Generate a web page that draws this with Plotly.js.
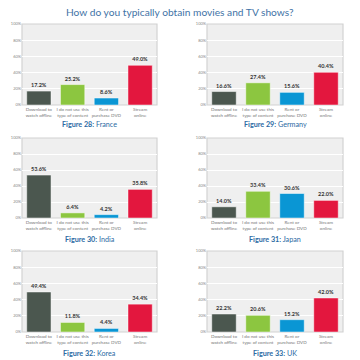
<!DOCTYPE html>
<html>
<head>
<meta charset="utf-8">
<script src="https://cdn.plot.ly/plotly-3.0.1.min.js"></script>
<style>html,body{margin:0;padding:0;background:#fff;}#chart{width:360px;height:360px;}</style>
</head>
<body>
<div id="chart"></div>
<script>
const categories = ["Download to<br>watch offline", "I do not use this<br>type of content", "Rent or<br>purchase DVD", "Stream<br>online"];
const barColors = ["#4b574f", "#8cc640", "#0a96d4", "#e3173e"];
const countries = ["France", "Germany", "India", "Japan", "Korea", "UK"];
const figureNumbers = [28, 29, 30, 31, 32, 33];
const france = [17.2, 25.2, 8.6, 49.0];
const germany = [16.6, 27.4, 15.6, 40.4];
const india = [53.6, 6.4, 4.2, 35.8];
const japan = [14.0, 33.4, 30.6, 22.0];
const korea = [49.4, 11.8, 4.4, 34.4];
const uk = [22.2, 20.6, 15.2, 42.0];
const yTicks = [0, 20, 40, 60, 80, 100];
const seriesList = [france, germany, india, japan, korea, uk];

const W = 360, H = 360;
const cols = [[22, 157], [207, 343]];
const rows = [[24, 105], [138, 218], [251, 332]];
const captionY = [124, 239, 353];

const data = [];
const layout = {
  width: W, height: H,
  margin: {l: 0, r: 0, t: 0, b: 0},
  paper_bgcolor: "#ffffff",
  showlegend: false,
  font: {family: "Lato, 'DejaVu Sans', sans-serif", color: "#555"},
  annotations: [],
  shapes: []
};

seriesList.forEach((vals, i) => {
  const c = i % 2, r = Math.floor(i / 2);
  const n = i + 1;
  const xa = "xaxis" + (n === 1 ? "" : n), ya = "yaxis" + (n === 1 ? "" : n);
  const xr = "x" + (n === 1 ? "" : n), yr = "y" + (n === 1 ? "" : n);
  data.push({
    type: "bar",
    x: categories, y: vals,
    xaxis: xr, yaxis: yr,
    marker: {color: barColors, line: {color: "rgba(255,255,255,0.6)", width: 0.8}},
    width: 0.72,
    text: vals.map(v => v.toFixed(1) + "%"),
    textposition: "outside",
    cliponaxis: false,
    textfont: {family: "Lato, sans-serif", size: 5.5, color: "#333", weight: "bold"},
    hoverinfo: "none"
  });
  layout[xa] = {
    domain: [cols[c][0] / W, cols[c][1] / W],
    anchor: yr,
    showgrid: false, zeroline: false,
    showline: false,
    ticks: "",
    tickfont: {size: 4.6, color: "#777", family: "Lato, sans-serif"},
    fixedrange: true
  };
  layout[ya] = {
    domain: [1 - rows[r][1] / H, 1 - rows[r][0] / H],
    anchor: xr,
    range: [0, 100],
    tickvals: yTicks,
    ticktext: yTicks.map(t => t + "%"),
    showgrid: true, gridcolor: "#ffffff", gridwidth: 1,
    zeroline: false, showline: false, ticks: "",
    tickfont: {size: 4, color: "#888", family: "Lato, sans-serif"},
    fixedrange: true
  };
  layout.shapes.push({
    type: "rect", xref: "paper", yref: "paper", layer: "below",
    x0: cols[c][0] / W, x1: cols[c][1] / W,
    y0: 1 - rows[r][1] / H, y1: 1 - rows[r][0] / H,
    fillcolor: "#efefef", line: {color: "#d2d2d2", width: 1.2}
  });
  layout.annotations.push({
    xref: "paper", yref: "paper",
    x: (cols[c][0] + cols[c][1]) / 2 / W, y: 1 - captionY[r] / H,
    xanchor: "center", yanchor: "middle", showarrow: false,
    text: "<b>Figure " + figureNumbers[i] + ":</b> " + countries[i],
    font: {size: 7.2, color: "#2b6aa3", family: "Lato, sans-serif"}
  });
});

layout.annotations.push({
  xref: "paper", yref: "paper", x: 0.5, y: 1 - 12 / H,
  xanchor: "center", yanchor: "middle", showarrow: false,
  text: "How do you typically obtain movies and TV shows?",
  font: {size: 10.2, color: "#3f73a6", family: "Lato, sans-serif"}
});

Plotly.newPlot("chart", data, layout, {displayModeBar: false, staticPlot: true});
</script>
</body>
</html>
